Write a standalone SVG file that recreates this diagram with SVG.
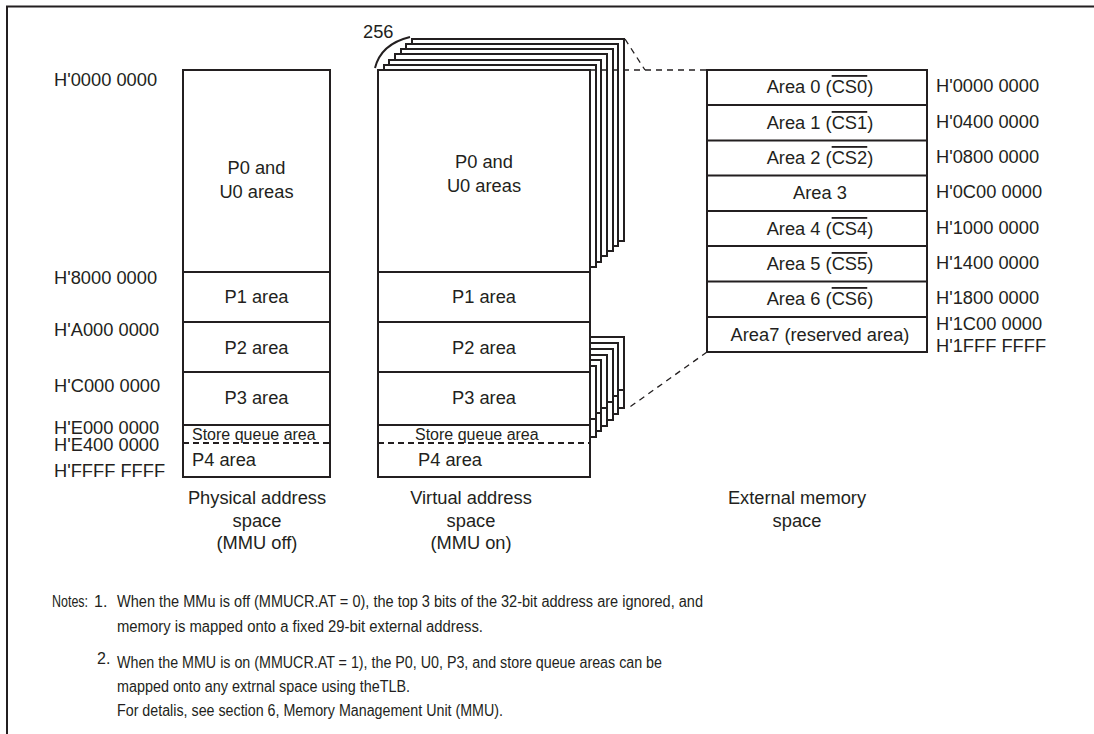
<svg xmlns="http://www.w3.org/2000/svg" width="1094" height="734" viewBox="0 0 1094 734">
<style>
text{font-family:"Liberation Sans",Arial,sans-serif;fill:#231f20;font-size:18.3px}
.c{text-anchor:middle}
.sm{font-size:16px}
.nt{font-size:16px}
.box{fill:#fff;stroke:#231f20;stroke-width:2}
.lay{fill:#fff;stroke:#231f20;stroke-width:2}
.ln{stroke:#231f20;stroke-width:2;fill:none}
.dl{stroke:#231f20;stroke-width:2;stroke-dasharray:6 4;fill:none}
.dc{stroke:#231f20;stroke-width:1.3;stroke-dasharray:6 5;fill:none}
.ov{text-decoration:overline}
</style>
<rect width="1094" height="734" fill="#fff"/>
<path class="ln" d="M7,734 V6.5 H1094"/>

<g id="physical">
<rect class="box" x="183" y="70" width="147" height="407"/>
<path class="ln" d="M183,272 H330 M183,322 H330 M183,372 H330 M183,425 H330"/>
<path class="dl" d="M183,443 H330"/>
<text class="c" x="256.5" y="174">P0 and</text>
<text class="c" x="256.5" y="198">U0 areas</text>
<text class="c" x="256.5" y="303">P1 area</text>
<text class="c" x="256.5" y="354">P2 area</text>
<text class="c" x="256.5" y="404">P3 area</text>
<text class="sm" x="192" y="440">Store queue area</text>
<text x="192" y="466">P4 area</text>
</g>

<g id="physical-labels">
<text x="54" y="86">H'0000 0000</text>
<text x="54" y="284">H'8000 0000</text>
<text x="54" y="336">H'A000 0000</text>
<text x="54" y="392">H'C000 0000</text>
<text x="54" y="434">H'E000 0000</text>
<text x="54" y="451">H'E400 0000</text>
<text x="54" y="477">H'FFFF FFFF</text>
<text class="c" x="257" y="504">Physical address</text>
<text class="c" x="257" y="527">space</text>
<text class="c" x="257" y="549">(MMU off)</text>
</g>

<g id="virtual">
<rect class="lay" x="412" y="39" width="212" height="202"/>
<rect class="lay" x="406" y="44" width="212" height="202"/>
<rect class="lay" x="401" y="49" width="212" height="202"/>
<rect class="lay" x="395" y="54" width="212" height="202"/>
<rect class="lay" x="389" y="60" width="212" height="202"/>
<rect class="lay" x="384" y="65" width="212" height="202"/>

<rect class="lay" x="412" y="337" width="212" height="53"/>
<rect class="lay" x="412" y="390" width="212" height="18"/>
<rect class="lay" x="406" y="343" width="212" height="53"/>
<rect class="lay" x="406" y="396" width="212" height="18"/>
<rect class="lay" x="401" y="349" width="212" height="53"/>
<rect class="lay" x="401" y="402" width="212" height="18"/>
<rect class="lay" x="395" y="355" width="212" height="53"/>
<rect class="lay" x="395" y="408" width="212" height="18"/>
<rect class="lay" x="389" y="360" width="212" height="53"/>
<rect class="lay" x="389" y="413" width="212" height="18"/>
<rect class="lay" x="384" y="366" width="212" height="53"/>
<rect class="lay" x="384" y="419" width="212" height="18"/>

<rect class="box" x="378" y="70" width="212" height="407"/>
<path class="ln" d="M378,272 H590 M378,322 H590 M378,372 H590 M378,425 H590"/>
<path class="dl" d="M378,443 H590"/>
<text class="c" x="484" y="168">P0 and</text>
<text class="c" x="484" y="192">U0 areas</text>
<text class="c" x="484" y="303">P1 area</text>
<text class="c" x="484" y="354">P2 area</text>
<text class="c" x="484" y="404">P3 area</text>
<text class="sm" x="415" y="440">Store queue area</text>
<text x="418" y="466">P4 area</text>
<text x="363" y="38">256</text>
<text class="c" x="471" y="504">Virtual address</text>
<text class="c" x="471" y="527">space</text>
<text class="c" x="471" y="549">(MMU on)</text>
</g>

<g id="external">
<rect class="box" x="707" y="70" width="220" height="282"/>
<path class="ln" d="M707,105 H927 M707,140.5 H927 M707,175.5 H927 M707,211 H927 M707,246 H927 M707,281.5 H927 M707,317 H927"/>
<text class="c" x="820" y="93">Area 0 (<tspan class="ov">CS0</tspan>)</text>
<text class="c" x="820" y="129">Area 1 (<tspan class="ov">CS1</tspan>)</text>
<text class="c" x="820" y="164">Area 2 (<tspan class="ov">CS2</tspan>)</text>
<text class="c" x="820" y="199">Area 3</text>
<text class="c" x="820" y="235">Area 4 (<tspan class="ov">CS4</tspan>)</text>
<text class="c" x="820" y="270">Area 5 (<tspan class="ov">CS5</tspan>)</text>
<text class="c" x="820" y="305">Area 6 (<tspan class="ov">CS6</tspan>)</text>
<text class="c" x="820" y="341">Area7 (reserved area)</text>
<text x="936" y="92">H'0000 0000</text>
<text x="936" y="128">H'0400 0000</text>
<text x="936" y="163">H'0800 0000</text>
<text x="936" y="198">H'0C00 0000</text>
<text x="936" y="234">H'1000 0000</text>
<text x="936" y="269">H'1400 0000</text>
<text x="936" y="304">H'1800 0000</text>
<text x="936" y="330">H'1C00 0000</text>
<text x="936" y="352">H'1FFF FFFF</text>
<text class="c" x="797" y="504">External memory</text>
<text class="c" x="797" y="527">space</text>
</g>

<g id="connectors">
<path class="dc" d="M590,70 H707"/>
<path class="dc" d="M625,39 L645,70"/>
<path class="dc" d="M707,352 L627,409"/>
<path class="ln" d="M375,68 Q381,44 410,37" stroke-width="1.3"/>
</g>

<g id="notes">
<text class="nt" transform="translate(52,607) scale(0.78,1)">Notes:</text>
<text class="nt" x="94" y="607">1.</text>
<text class="nt" x="117" y="607" textLength="586" lengthAdjust="spacingAndGlyphs">When the MMu is off (MMUCR.AT = 0), the top 3 bits of the 32-bit address are ignored, and</text>
<text class="nt" x="117" y="632" textLength="366" lengthAdjust="spacingAndGlyphs">memory is mapped onto a fixed 29-bit external address.</text>
<text class="nt" x="97" y="664" font-size="14">2.</text>
<text class="nt" x="117" y="668" textLength="545" lengthAdjust="spacingAndGlyphs">When the MMU is on (MMUCR.AT = 1), the P0, U0, P3, and store queue areas can be</text>
<text class="nt" x="117" y="692" textLength="293" lengthAdjust="spacingAndGlyphs">mapped onto any extrnal space using theTLB.</text>
<text class="nt" x="117" y="716" textLength="386" lengthAdjust="spacingAndGlyphs">For detalis, see section 6, Memory Management Unit (MMU).</text>
</g>
</svg>
